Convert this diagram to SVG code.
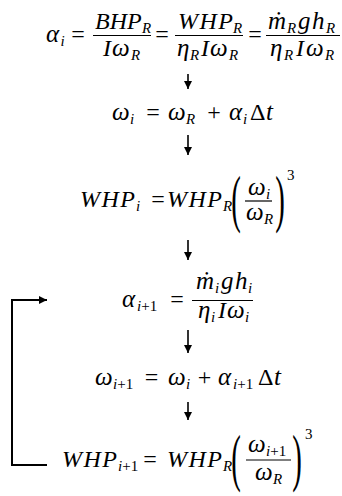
<svg xmlns="http://www.w3.org/2000/svg" width="342" height="496" viewBox="0 0 342 496">
<defs>
<style>
text { font-family: "Liberation Serif", "DejaVu Serif", serif; font-size: 24px; fill: #000; font-style: italic; }
.g { font-size: 25px; }
.s { font-size: 15px; }
.n { font-style: normal; }
.c { text-anchor: middle; font-style: normal; }
.fl { stroke: #000; stroke-width: 1.2; }
.big { font-size: 64px; text-anchor: middle; font-style: normal; }
.conn { stroke: #000; fill: none; }
</style>
<marker id="ah" viewBox="0 0 10 10" refX="10" refY="5" markerWidth="8" markerHeight="8" orient="auto" markerUnits="userSpaceOnUse">
<path d="M0,0 L10,5 L0,10 z" fill="#000"/>
</marker>
</defs>
<rect width="342" height="496" fill="#fff"/>

<g id="eq1">
<text x="46" y="42" class="g">α</text><text x="60.5" y="46" class="s">i</text>
<text x="78" y="42" class="c">=</text>
<line class="fl" x1="93" y1="35.5" x2="151" y2="35.5"/>
<text x="95" y="29">BHP</text><text x="142" y="33" class="s">R</text>
<text x="103" y="56">I</text><text x="112" y="56" class="g">ω</text><text x="131" y="60" class="s">R</text>
<text x="162" y="42" class="c">=</text>
<line class="fl" x1="175" y1="35.5" x2="243" y2="35.5"/>
<text x="178" y="29">W<tspan dx="1.5">H</tspan><tspan dx="1.5">P</tspan></text><text x="233" y="33" class="s">R</text>
<text x="177" y="56" class="g">η</text><text x="190" y="60" class="s">R</text><text x="201" y="56">I</text><text x="210" y="56" class="g">ω</text><text x="229" y="60" class="s">R</text>
<text x="255" y="42" class="c">=</text>
<line class="fl" x1="266" y1="35.5" x2="340" y2="35.5"/>
<text x="268" y="29" class="g">ṁ</text><text x="287" y="33" class="s">R</text><text x="298" y="29" class="g">g</text><text x="312" y="29" class="g">h</text><text x="326" y="33" class="s">R</text>
<text x="270" y="56" class="g">η</text><text x="284" y="60" class="s">R</text><text x="296" y="56">I</text><text x="306" y="56" class="g">ω</text><text x="325" y="60" class="s">R</text>
</g>

<g id="eq2">
<text x="112" y="120" class="g">ω</text><text x="130" y="124" class="s">i</text>
<text x="153" y="120" class="c">=</text>
<text x="168" y="120" class="g">ω</text><text x="186" y="124" class="s">R</text>
<text x="214" y="120" class="c">+</text>
<text x="229" y="120" class="g">α</text><text x="243" y="124" class="s">i</text>
<text x="250" y="120" class="n">Δ</text><text x="266" y="120" class="g">t</text>
</g>

<g id="eq3">
<text x="80" y="207">W<tspan dx="1.5">H</tspan><tspan dx="1.5">P</tspan></text><text x="136" y="211" class="s">i</text>
<text x="158" y="207" class="c">=</text>
<text x="167" y="207">W<tspan dx="1.5">H</tspan><tspan dx="1.5">P</tspan></text><text x="223" y="211" class="s">R</text>
<text class="big" transform="translate(236,220) scale(0.45,1)">(</text>
<line class="fl" x1="245" y1="201" x2="272" y2="201"/>
<text x="248" y="195" class="g">ω</text><text x="266" y="199" class="s">i</text>
<text x="246" y="220" class="g">ω</text><text x="264" y="224" class="s">R</text>
<text class="big" transform="translate(280,220) scale(0.45,1)">)</text>
<text x="287" y="180" class="s n">3</text>
</g>

<g id="eq4">
<text x="122" y="307" class="g">α</text><text x="137" y="311" class="s">i<tspan class="n">+1</tspan></text>
<text x="177" y="307" class="c">=</text>
<line class="fl" x1="192" y1="300.5" x2="253" y2="300.5"/>
<text x="196" y="289" class="g">ṁ</text><text x="215" y="293" class="s">i</text><text x="221" y="289" class="g">g</text><text x="235" y="289" class="g">h</text><text x="248" y="293" class="s">i</text>
<text x="198" y="318" class="g">η</text><text x="211" y="322" class="s">i</text><text x="218" y="318">I</text><text x="227" y="318" class="g">ω</text><text x="245" y="322" class="s">i</text>
</g>

<g id="eq5">
<text x="95" y="385" class="g">ω</text><text x="113" y="389" class="s">i<tspan class="n">+1</tspan></text>
<text x="151.5" y="385" class="c">=</text>
<text x="168" y="385" class="g">ω</text><text x="186" y="389" class="s">i</text>
<text x="204.5" y="385" class="c">+</text>
<text x="218" y="385" class="g">α</text><text x="233" y="389" class="s">i<tspan class="n">+1</tspan></text>
<text x="258" y="385" class="n">Δ</text><text x="274" y="385" class="g">t</text>
</g>

<g id="eq6">
<text x="62" y="467">W<tspan dx="1.5">H</tspan><tspan dx="1.5">P</tspan></text><text x="118" y="471" class="s">i<tspan class="n">+1</tspan></text>
<text x="150" y="467" class="c">=</text>
<text x="167" y="467">W<tspan dx="1.5">H</tspan><tspan dx="1.5">P</tspan></text><text x="223" y="471" class="s">R</text>
<text class="big" transform="translate(236,479) scale(0.45,1)">(</text>
<line class="fl" x1="246" y1="460" x2="291" y2="460"/>
<text x="248" y="452" class="g">ω</text><text x="266" y="456" class="s">i<tspan class="n">+1</tspan></text>
<text x="255" y="480" class="g">ω</text><text x="273" y="484" class="s">R</text>
<text class="big" transform="translate(297,479) scale(0.45,1)">)</text>
<text x="305" y="439" class="s n">3</text>
</g>

<g id="connectors">
<line class="conn" stroke-width="1.6" x1="188" y1="74" x2="188" y2="89" marker-end="url(#ah)"/>
<line class="conn" stroke-width="1.6" x1="188" y1="135" x2="188" y2="155" marker-end="url(#ah)"/>
<line class="conn" stroke-width="1.6" x1="188" y1="240" x2="188" y2="260" marker-end="url(#ah)"/>
<line class="conn" stroke-width="1.6" x1="188" y1="330" x2="188" y2="353" marker-end="url(#ah)"/>
<line class="conn" stroke-width="1.6" x1="188" y1="402" x2="188" y2="420" marker-end="url(#ah)"/>
<path class="conn" stroke-width="2" d="M47,465 H12 V300 H47" marker-end="url(#ah)"/>
</g>
</svg>
